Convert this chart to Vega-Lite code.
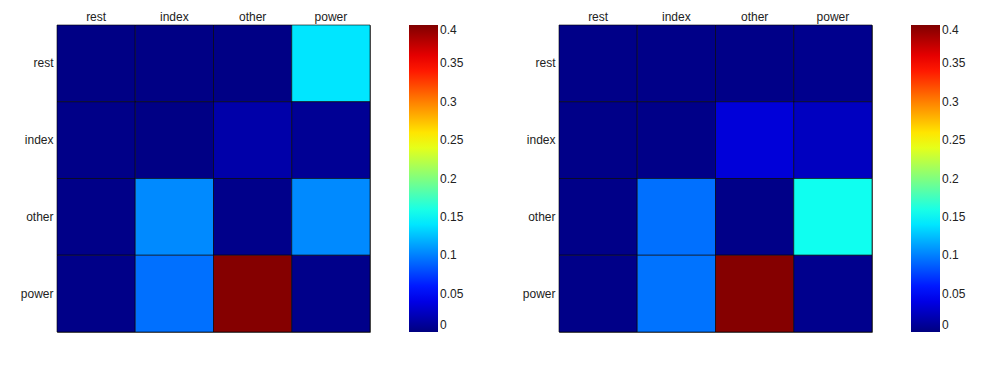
{
  "$schema": "https://vega.github.io/schema/vega-lite/v6.json",
  "padding": {"left": 19, "top": 9, "right": 5, "bottom": 5},
  "background": "white",
  "datasets": {
    "left": [
      {"row": "rest", "col": "rest", "value": 0.002},
      {"row": "rest", "col": "index", "value": 0.002},
      {"row": "rest", "col": "other", "value": 0.002},
      {"row": "rest", "col": "power", "value": 0.14},
      {"row": "index", "col": "rest", "value": 0.003},
      {"row": "index", "col": "index", "value": 0.002},
      {"row": "index", "col": "other", "value": 0.016},
      {"row": "index", "col": "power", "value": 0.008},
      {"row": "other", "col": "rest", "value": 0.003},
      {"row": "other", "col": "index", "value": 0.104},
      {"row": "other", "col": "other", "value": 0.004},
      {"row": "other", "col": "power", "value": 0.104},
      {"row": "power", "col": "rest", "value": 0.003},
      {"row": "power", "col": "index", "value": 0.094},
      {"row": "power", "col": "other", "value": 0.398},
      {"row": "power", "col": "power", "value": 0.004}
    ],
    "right": [
      {"row": "rest", "col": "rest", "value": 0.003},
      {"row": "rest", "col": "index", "value": 0.003},
      {"row": "rest", "col": "other", "value": 0.003},
      {"row": "rest", "col": "power", "value": 0.005},
      {"row": "index", "col": "rest", "value": 0.003},
      {"row": "index", "col": "index", "value": 0.003},
      {"row": "index", "col": "other", "value": 0.035},
      {"row": "index", "col": "power", "value": 0.025},
      {"row": "other", "col": "rest", "value": 0.003},
      {"row": "other", "col": "index", "value": 0.094},
      {"row": "other", "col": "other", "value": 0.003},
      {"row": "other", "col": "power", "value": 0.156},
      {"row": "power", "col": "rest", "value": 0.003},
      {"row": "power", "col": "index", "value": 0.095},
      {"row": "power", "col": "other", "value": 0.398},
      {"row": "power", "col": "power", "value": 0.005}
    ]
  },
  "config": {
    "view": {"stroke": "#666", "strokeWidth": 1},
    "font": "Liberation Sans",
    "axis": {"labelFont": "Liberation Sans", "labelFontSize": 12, "labelColor": "#222", "ticks": false, "domain": false, "grid": false, "title": null},
    "legend": {"labelFont": "Liberation Sans", "labelFontSize": 12, "labelColor": "#222"},
    "concat": {"spacing": 56}
  },
  "resolve": {"scale": {"color": "independent"}, "legend": {"color": "independent"}},
  "hconcat": [
    {
      "width": 313,
      "height": 307,
      "data": {"name": "left"},
      "mark": {"type": "rect", "stroke": "#000", "strokeWidth": 1, "strokeOpacity": 0.6},
      "encoding": {
        "x": {"field": "col", "type": "nominal", "sort": ["rest", "index", "other", "power"], "axis": {"orient": "top", "labelAngle": 0, "labelPadding": 2}},
        "y": {"field": "row", "type": "nominal", "sort": ["rest", "index", "other", "power"], "axis": {"labelPadding": 4}},
        "color": {
          "field": "value", "type": "quantitative",
          "scale": {"type": "linear", "domain": [0, 0.05, 0.15, 0.25, 0.35, 0.4], "range": ["#000080", "#0000ff", "#00ffff", "#ffff00", "#ff0000", "#800000"], "interpolate": "rgb"},
          "legend": {"title": null, "orient": "right", "offset": 39, "type": "gradient", "direction": "vertical", "gradientLength": 307, "gradientThickness": 29, "gradientStrokeColor": "#666", "values": [0, 0.05, 0.1, 0.15, 0.2, 0.25, 0.3, 0.35, 0.4], "format": ".2~f", "labelOverlap": false, "labelOffset": 2}
        }
      }
    },
    {
      "width": 313,
      "height": 307,
      "data": {"name": "right"},
      "mark": {"type": "rect", "stroke": "#000", "strokeWidth": 1, "strokeOpacity": 0.6},
      "encoding": {
        "x": {"field": "col", "type": "nominal", "sort": ["rest", "index", "other", "power"], "axis": {"orient": "top", "labelAngle": 0, "labelPadding": 2}},
        "y": {"field": "row", "type": "nominal", "sort": ["rest", "index", "other", "power"], "axis": {"labelPadding": 4}},
        "color": {
          "field": "value", "type": "quantitative",
          "scale": {"type": "linear", "domain": [0, 0.05, 0.15, 0.25, 0.35, 0.4], "range": ["#000080", "#0000ff", "#00ffff", "#ffff00", "#ff0000", "#800000"], "interpolate": "rgb"},
          "legend": {"title": null, "orient": "right", "offset": 39, "type": "gradient", "direction": "vertical", "gradientLength": 307, "gradientThickness": 29, "gradientStrokeColor": "#666", "values": [0, 0.05, 0.1, 0.15, 0.2, 0.25, 0.3, 0.35, 0.4], "format": ".2~f", "labelOverlap": false, "labelOffset": 2}
        }
      }
    }
  ]
}
